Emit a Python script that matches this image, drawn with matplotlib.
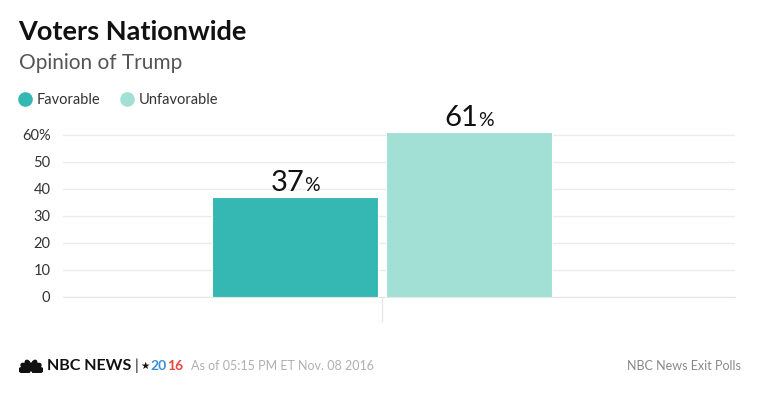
import numpy as np
import matplotlib
matplotlib.use("Agg")
import matplotlib.pyplot as plt
from matplotlib.lines import Line2D
from matplotlib.patches import Ellipse
from matplotlib.offsetbox import TextArea, HPacker, AnnotationBbox
from matplotlib.ticker import FuncFormatter

plt.rcParams['font.family'] = ['Lato', 'DejaVu Sans']

# data
categories = ['Favorable', 'Unfavorable']
values = [37, 61]
colors = ['#35b7b4', '#a2dfd4']
yticks = [0, 10, 20, 30, 40, 50, 60]

title = 'Voters Nationwide'
subtitle = 'Opinion of Trump'
stamp = 'As of 05:15 PM ET Nov. 08 2016'
source = 'NBC News Exit Polls'

fig = plt.figure(figsize=(7.6, 3.99), dpi=100)
W, H = 760, 399


def fx(px):
    return px / W


def fy(py):
    return 1 - py / H


ax = fig.add_axes([fx(63), fy(297), fx(735) - fx(63), fy(132) - fy(297)])

width = 1.0
offsets = [-0.524, 0.524]
for off, v, c in zip(offsets, values, colors):
    ax.bar(off, v, width=width, color=c, edgecolor='white', linewidth=0.8, zorder=3)
    t1 = TextArea(str(v), textprops=dict(fontsize=21, color='#111111'))
    t2 = TextArea('%', textprops=dict(fontsize=14, color='#111111'))
    pack = HPacker(children=[t1, t2], align='baseline', pad=0, sep=0)
    ab = AnnotationBbox(pack, (off, v), xybox=(0, 1), xycoords='data',
                        boxcoords='offset points', box_alignment=(0.5, 0),
                        frameon=False, annotation_clip=False)
    ax.add_artist(ab)

ax.set_xlim(-1.922, 2.127)
ax.set_ylim(0, 61.1)
ax.set_yticks(yticks)
ax.yaxis.set_major_formatter(FuncFormatter(lambda v, p: '%d%%' % v if v == 60 else '%d' % v))
ax.tick_params(axis='y', length=0, pad=9, labelsize=10.5, labelcolor='#333333')
ax.set_xticks([0])
ax.set_xticklabels([''])
ax.tick_params(axis='x', length=18, width=1, color='#e6e6e6', direction='out')
ax.yaxis.grid(True, color='#ebebeb', linewidth=1, zorder=0)
ax.set_axisbelow(True)
for s in ['top', 'right', 'left']:
    ax.spines[s].set_visible(False)
ax.spines['bottom'].set_color('#e6e6e6')

# titles
fig.text(fx(18), fy(40), title, fontsize=19.5, fontweight='bold', color='#111111', va='baseline')
fig.text(fx(19), fy(69), subtitle, fontsize=15, color='#555555', va='baseline')

# legend
handles = [Line2D([], [], marker='o', ls='', markersize=9.5, color=c) for c in colors]
fig.legend(handles, categories, loc='center left', bbox_to_anchor=(fx(12), fy(100)),
           ncol=2, frameon=False, fontsize=10.5, handletextpad=0.3, columnspacing=1.3,
           handlelength=1.0, labelcolor='#333333', borderaxespad=0)

# footer: peacock mark in its own small axes
lax = fig.add_axes([fx(19), fy(373), fx(24), fy(357) - fy(373)])
lax.set_xlim(-12, 12)
lax.set_ylim(0, 16)
lax.set_aspect('equal', adjustable='datalim')
lax.axis('off')
for ang in [12, 40, 68, 112, 140, 168]:
    r = np.deg2rad(ang)
    lax.add_patch(Ellipse((7 * np.cos(r), 1 + 7 * np.sin(r)), width=5.5, height=11,
                          angle=ang - 90, color='#111111'))

# footer texts laid out left to right
renderer = fig.canvas.get_renderer()
parts = [('NBC NEWS', dict(fontweight='bold', color='#111111', fontsize=11.5), 0),
         ('|', dict(color='#111111', fontsize=11), 3),
         ('\u2605', dict(color='#111111', fontsize=7.5, family=['DejaVu Sans']), 2),
         ('20', dict(fontweight='bold', color='#3a8fd9', fontsize=10), 1),
         ('16', dict(fontweight='bold', color='#e8473d', fontsize=10), 0)]
x = 47
for s, kw, gap in parts:
    x += gap
    t = fig.text(fx(x), fy(366), s, va='center', **kw)
    x += t.get_window_extent(renderer).width
fig.text(fx(191), fy(366), stamp, fontsize=9, color='#b0b0b0', va='center')
fig.text(fx(741), fy(366), source, fontsize=9, color='#888888', va='center', ha='right')

fig.savefig('out.png', dpi=100, facecolor='white')
